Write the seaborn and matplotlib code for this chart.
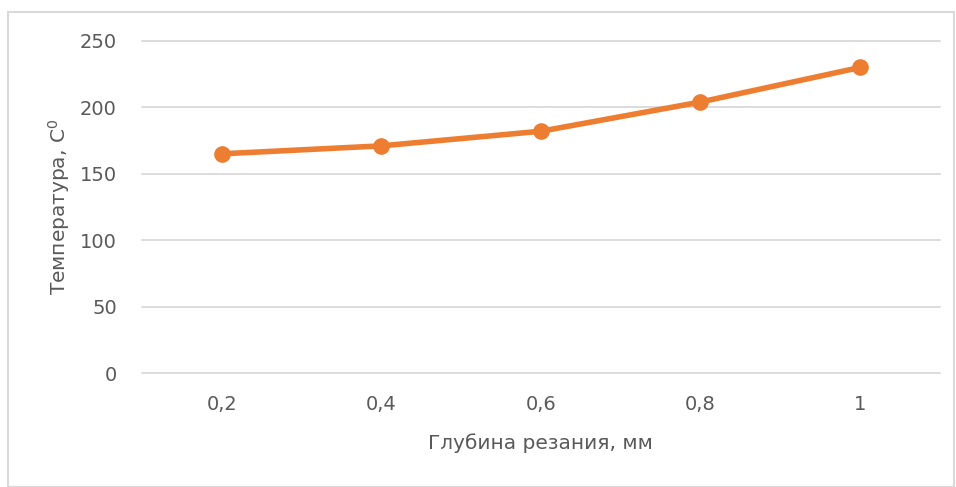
import seaborn as sns
import pandas as pd
import matplotlib.pyplot as plt
from matplotlib.patches import Rectangle

# data
depth_labels = ['0,2', '0,4', '0,6', '0,8', '1']
temperature = [165, 171, 182, 204, 230]
y_ticks = [0, 50, 100, 150, 200, 250]

df = pd.DataFrame({'pos': range(len(depth_labels)), 'temp': temperature})

sns.set_style('white')
plt.rcParams['font.family'] = ['DejaVu Sans']

fig = plt.figure(figsize=(9.56, 4.87), dpi=100)
ax = fig.add_axes([0.1485, 0.234, 0.8345, 0.682])

sns.lineplot(data=df, x='pos', y='temp', ax=ax, color='#ED7D31', linewidth=4,
             marker='o', markersize=12, markeredgewidth=0, zorder=3)

ax.set_xlim(-0.5, len(depth_labels) - 0.5)
ax.set_ylim(0, 250)
ax.set_yticks(y_ticks)
ax.set_xticks(range(len(depth_labels)))
ax.set_xticklabels(depth_labels)
ax.yaxis.grid(True, color='#D9D9D9', linewidth=1.3)
ax.xaxis.grid(False)
for gl in ax.get_ygridlines():
    gl.set_clip_on(False)
for s in ax.spines.values():
    s.set_visible(False)
ax.tick_params(axis='both', length=0, labelsize=14, labelcolor='#595959')
ax.tick_params(axis='y', pad=18)
ax.tick_params(axis='x', pad=16)

ax.set_xlabel('Глубина резания, мм', fontsize=14.5, color='#595959', labelpad=14)
ax.set_ylabel('Температура, С$^0$', fontsize=14.5, color='#595959', labelpad=6)

# light frame around the chart area
fig.patches.append(Rectangle((8 / 956, 0.0), 946 / 956, 1 - 12 / 487,
                             transform=fig.transFigure, fill=False,
                             edgecolor='#D9D9D9', linewidth=1.5))

fig.savefig('out.png', dpi=100)
